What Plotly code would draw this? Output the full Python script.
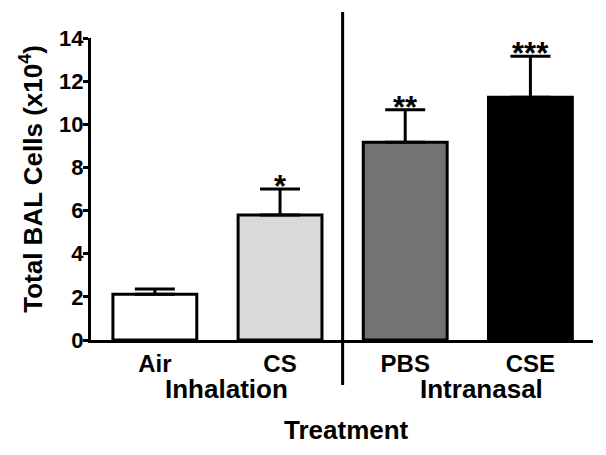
import plotly.graph_objects as go

categories = ["Air", "CS", "PBS", "CSE"]
groups = ["Inhalation", "Intranasal"]
values = [2.12, 5.79, 9.17, 11.25]
errors = [0.24, 1.21, 1.5, 1.9]
stars = ["", "*", "**", "***"]
colors = ["#ffffff", "#d9d9d9", "#737373", "#000000"]
yticks = [0, 2, 4, 6, 8, 10, 12, 14]

FONT = "Liberation Sans, Arial, sans-serif"
pos = list(range(len(categories)))

fig = go.Figure()
fig.add_trace(go.Bar(
    x=pos, y=values, width=0.67,
    marker=dict(color=colors, line=dict(color="black", width=3)),
    error_y=dict(type="data", symmetric=False, array=errors,
                 arrayminus=[0] * len(values), color="black",
                 thickness=3, width=20),
    showlegend=False,
))

for i, (v, e, s) in enumerate(zip(values, errors, stars)):
    if s:
        fig.add_annotation(x=i, y=v + e, text=s, showarrow=False,
                           yanchor="bottom", yshift=-17,
                           font=dict(family=FONT, size=31, color="black", weight="bold"))

for gx, g in zip([0.574, 2.61], groups):
    fig.add_annotation(x=gx, y=-0.162, xref="x", yref="paper", text=g,
                       showarrow=False, yanchor="middle",
                       font=dict(family=FONT, size=26, color="black", weight="bold"))

fig.add_annotation(x=0.509, y=-0.298, xref="paper", yref="paper", text="Treatment",
                   showarrow=False, yanchor="middle",
                   font=dict(family=FONT, size=26, color="black", weight="bold"))
fig.add_annotation(x=-0.12, y=0.533, xref="paper", yref="paper",
                   text="Total BAL Cells (x10<sup>4</sup>)", textangle=-90,
                   showarrow=False, xanchor="center", yanchor="middle",
                   font=dict(family=FONT, size=26, color="black", weight="bold"))

fig.add_shape(type="line", xref="x", yref="paper", x0=1.5, x1=1.5,
              y0=-0.149, y1=1.086, line=dict(color="black", width=3))

fig.update_layout(
    width=606, height=455,
    margin=dict(l=83, r=21, t=30, b=123),
    paper_bgcolor="white", plot_bgcolor="white",
    font=dict(family=FONT, color="black"),
)
fig.update_xaxes(
    range=[-0.51, 3.5], tickvals=pos, ticktext=categories,
    showline=True, linecolor="black", linewidth=3, ticks="",
    showgrid=False, zeroline=False, automargin=False,
    tickfont=dict(family=FONT, size=24, color="black", weight="bold"),
)
fig.update_yaxes(
    range=[0, 14], tickvals=yticks, showline=True, linecolor="black",
    linewidth=3, ticks="outside", ticklen=5, tickwidth=3, tickcolor="black",
    showgrid=False, zeroline=False, automargin=False, ticklabelstandoff=-5,
    tickfont=dict(family=FONT, size=22, color="black", weight="bold"),
)

fig.write_html("out.html")
